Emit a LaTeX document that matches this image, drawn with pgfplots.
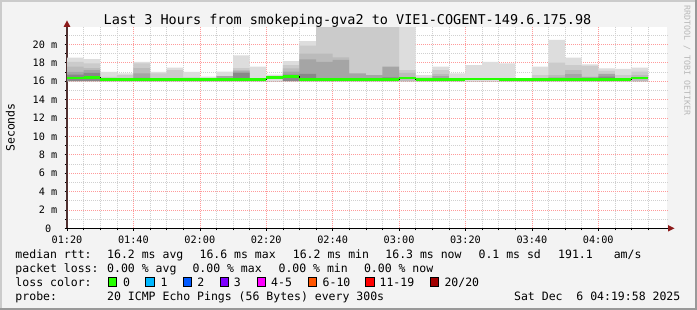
\documentclass[border=0pt]{standalone}
\usepackage{pgfplots}
\pgfplotsset{compat=1.18}
\usepackage{pgfplotstable}
\usepgfplotslibrary{fillbetween}
\usepackage{fontspec}
\setmainfont{DejaVu Sans Mono}
\setmonofont{DejaVu Sans Mono}

\definecolor{bgc}{HTML}{F3F3F3}
\definecolor{shadeA}{HTML}{CBCBCB}
\definecolor{shadeB}{HTML}{999999}
\definecolor{mgrid}{HTML}{FF9A9A}
\definecolor{ngrid}{HTML}{D0D0D0}
\definecolor{arr}{HTML}{8C1A1A}
\definecolor{yax}{HTML}{503030}
\definecolor{sA}{HTML}{DDDDDD}
\definecolor{sB}{HTML}{CBCBCB}
\definecolor{sC}{HTML}{BBBBBB}
\definecolor{sD}{HTML}{A5A5A5}
\definecolor{sE}{HTML}{888888}
\definecolor{med}{HTML}{26FF00}
\definecolor{lc0}{HTML}{26FF00}
\definecolor{lc1}{HTML}{00B8FF}
\definecolor{lc2}{HTML}{0059FF}
\definecolor{lc3}{HTML}{7E00FF}
\definecolor{lc4}{HTML}{FF00FF}
\definecolor{lc5}{HTML}{FF5500}
\definecolor{lc6}{HTML}{FF0000}
\definecolor{lc7}{HTML}{A10000}
\definecolor{wm}{HTML}{B8B8B8}

\pgfplotstableread{
x L1 L2 L3 L4 L5 md
0 18.55 18.10 17.57 17.00 16.70 16.35
5 18.40 17.93 17.40 17.20 16.90 16.40
10 17.00 16.45 16 16 16 16.15
15 16.85 16.66 16 16 16 16.15
20 18.10 17.93 17.40 16.85 16.35 16.15
25 17.00 16.85 16 16 16 16.15
30 17.46 17.20 16 16 16 16.15
35 17.00 16.40 16 16 16 16.15
40 16.48 16 16 16 16 16.15
45 17.02 16 16 16.55 16 16.15
50 18.80 17.40 17.20 17.05 16.90 16.15
55 17.57 16 16 16 16 16.15
60 16.70 16 16 16 16 16.42
65 18.18 17.75 17.39 17.02 16.70 16.50
70 20.35 19.85 19.00 18.37 16.80 16.15
75 16 23 19.00 18.10 16 16.15
80 16 23 18.58 18.30 16 16.15
85 16 23 16 16.85 16 16.15
90 16 23 16 16.66 16 16.15
95 16 23 16 17.57 16.40 16.15
100 23 17.20 16.90 16 16 16.35
105 16.65 16.40 16 16 16 16.15
110 17.57 17.20 16.77 16.55 16 16.15
115 16.85 16 16 16 16 16.15
120 17.75 16 16 16 16 16.25
125 18.10 16 16 16 16 16.25
130 17.93 16 16 16 16 16.15
135 16 16 16 16 16 16.15
140 17.57 16.66 16 16 16 16.15
145 20.47 18.00 16.66 16.40 16 16.15
150 18.55 17.75 17.20 16.77 16 16.15
155 17.83 17.65 16 16.45 16 16.15
160 17.39 17.10 16 16.80 16.50 16.15
165 17.32 16.66 16 16 16 16.15
170 17.46 17.02 16.66 16 16 16.32
175 17.46 17.02 16.66 16 16 16.32
}\smoke

\begin{document}
\begin{tikzpicture}[
  lg/.style={anchor=base west, inner sep=0pt, font=\fontsize{11.5bp}{13bp}\selectfont},
  box/.style={draw=black, line width=0.8bp}]

\begin{axis}[
  set layers,
  clip mode=individual,
  at={(67bp,-228.3bp)}, anchor=south west,
  scale only axis, width=601bp, height=201bp,
  xmin=0, xmax=181, ymin=0, ymax=21.85,
  axis lines*=left,
  x axis line style={black, line width=1.2bp},
  y axis line style={yax, line width=1.2bp},
  xtick={0,20,...,160},
  xticklabels={01:20,01:40,02:00,02:20,02:40,03:00,03:20,03:40,04:00},
  minor xtick={5,10,15,25,30,35,45,50,55,65,70,75,85,90,95,105,110,115,125,130,135,145,150,155,165,170,175},
  ytick={0,2,...,20},
  yticklabels={{0\ \ },2 m,4 m,6 m,8 m,10 m,12 m,14 m,16 m,18 m,20 m},
  minor ytick={1,3,...,21},
  grid=both,
  major grid style={mgrid, line width=0.6bp, dash pattern=on 1bp off 1bp},
  minor grid style={ngrid, line width=0.6bp, dash pattern=on 1bp off 1bp},
  tick align=outside,
  major tick length=2.5bp, minor tick length=2bp,
  tick style={black, line width=0.5bp},
  xticklabel style={font=\fontsize{10.2bp}{12bp}\selectfont, anchor=base, inner sep=0pt, yshift=-13.1bp},
  yticklabel style={font=\fontsize{10.2bp}{12bp}\selectfont, anchor=east, inner sep=0pt, xshift=-7bp},
]
\coordinate (O) at (rel axis cs:0,0);
\begin{pgfonlayer}{axis background}
% background and frame (image px -> shift (X-67, 228.3-Y))
\fill[bgc] ([shift={(-67bp,228.3bp)}]O) rectangle ([shift={(630bp,-81.7bp)}]O);
\fill[shadeA] ([shift={(-67bp,228.3bp)}]O) rectangle ([shift={(630bp,226.3bp)}]O);
\fill[shadeA] ([shift={(-67bp,228.3bp)}]O) rectangle ([shift={(-65bp,-81.7bp)}]O);
\fill[shadeB] ([shift={(-67bp,-79.7bp)}]O) rectangle ([shift={(630bp,-81.7bp)}]O);
\fill[shadeB] ([shift={(628bp,228.3bp)}]O) rectangle ([shift={(630bp,-81.7bp)}]O);
\fill[white] ([shift={(0bp,201bp)}]O) rectangle ([shift={(600bp,0bp)}]O);
\end{pgfonlayer}

\addplot[draw=none, name path=base, forget plot] coordinates {(0,16) (175,16)};
\addplot[draw=none, name path=pA, const plot mark left, forget plot] table[x=x,y=L1]{\smoke};
\addplot[fill=sA, draw=none, forget plot] fill between[of=pA and base];
\addplot[draw=none, name path=pB, const plot mark left, forget plot] table[x=x,y=L2]{\smoke};
\addplot[fill=sB, draw=none, forget plot] fill between[of=pB and base];
\addplot[draw=none, name path=pC, const plot mark left, forget plot] table[x=x,y=L3]{\smoke};
\addplot[fill=sC, draw=none, forget plot] fill between[of=pC and base];
\addplot[draw=none, name path=pD, const plot mark left, forget plot] table[x=x,y=L4]{\smoke};
\addplot[fill=sD, draw=none, forget plot] fill between[of=pD and base];
\addplot[draw=none, name path=pE, const plot mark left, forget plot] table[x=x,y=L5]{\smoke};
\addplot[fill=sE, draw=none, forget plot] fill between[of=pE and base];
\addplot[black, line width=0.6bp, const plot mark left, forget plot] table[x=x,y=md]{\smoke};
\addplot[med, line width=2.6bp, jump mark left, forget plot] table[x=x,y=md]{\smoke};
\end{axis}

% arrows
\fill[arr] (668bp,-225bp) -- (674.5bp,-228.3bp) -- (668bp,-231.6bp) -- cycle;
\fill[arr] (63.7bp,-26.8bp) -- (67bp,-20.3bp) -- (70.3bp,-26.8bp) -- cycle;

% title, unit, watermark
\node[anchor=base, inner sep=0pt, font=\fontsize{13.5bp}{15bp}\selectfont] at (347.5bp,-24.5bp) {Last 3 Hours from smokeping-gva2 to VIE1-COGENT-149.6.175.98};
\node[rotate=90, inner sep=0pt, font=\fontsize{11.5bp}{13bp}\selectfont] at (10.3bp,-127.5bp) {Seconds};
\node[rotate=-90, anchor=west, inner sep=0pt, text=wm, font=\fontsize{8.3bp}{10bp}\selectfont] at (687bp,-5bp) {RRDTOOL / TOBI OETIKER};

% legend rows
\node[lg] at (15.3bp,-258.7bp) {median rtt:};
\node[lg] at (107bp,-258.7bp) {16.2 ms avg};
\node[lg] at (199.4bp,-258.7bp) {16.6 ms max};
\node[lg] at (292.7bp,-258.7bp) {16.2 ms min};
\node[lg] at (385.2bp,-258.7bp) {16.3 ms now};
\node[lg] at (478.4bp,-258.7bp) {0.1 ms sd};
\node[lg] at (558bp,-258.7bp) {191.1};
\node[lg] at (613.6bp,-258.7bp) {am/s};

\node[lg] at (15.3bp,-272.3bp) {packet loss:};
\node[lg] at (107bp,-272.3bp) {0.00 \% avg};
\node[lg] at (192.3bp,-272.3bp) {0.00 \% max};
\node[lg] at (278.4bp,-272.3bp) {0.00 \% min};
\node[lg] at (363.8bp,-272.3bp) {0.00 \% now};

\node[lg] at (15.3bp,-286.3bp) {loss color:};
\fill[lc0] (108.4bp,-277.6bp) rectangle (116.6bp,-286.4bp);
\draw[box] (108.4bp,-277.6bp) rectangle (116.6bp,-286.4bp);
\node[lg] at (123bp,-286.3bp) {0};
\fill[lc1] (145.8bp,-277.6bp) rectangle (154bp,-286.4bp);
\draw[box] (145.8bp,-277.6bp) rectangle (154bp,-286.4bp);
\node[lg] at (160.3bp,-286.3bp) {1};
\fill[lc2] (183.1bp,-277.6bp) rectangle (191.3bp,-286.4bp);
\draw[box] (183.1bp,-277.6bp) rectangle (191.3bp,-286.4bp);
\node[lg] at (197.2bp,-286.3bp) {2};
\fill[lc3] (220bp,-277.6bp) rectangle (228.2bp,-286.4bp);
\draw[box] (220bp,-277.6bp) rectangle (228.2bp,-286.4bp);
\node[lg] at (233.6bp,-286.3bp) {3};
\fill[lc4] (256.9bp,-277.6bp) rectangle (265.1bp,-286.4bp);
\draw[box] (256.9bp,-277.6bp) rectangle (265.1bp,-286.4bp);
\node[lg] at (271bp,-286.3bp) {4-5};
\fill[lc5] (308bp,-277.6bp) rectangle (316.2bp,-286.4bp);
\draw[box] (308bp,-277.6bp) rectangle (316.2bp,-286.4bp);
\node[lg] at (322.5bp,-286.3bp) {6-10};
\fill[lc6] (365.8bp,-277.6bp) rectangle (374bp,-286.4bp);
\draw[box] (365.8bp,-277.6bp) rectangle (374bp,-286.4bp);
\node[lg] at (379.4bp,-286.3bp) {11-19};
\fill[lc7] (430.2bp,-277.6bp) rectangle (438.4bp,-286.4bp);
\draw[box] (430.2bp,-277.6bp) rectangle (438.4bp,-286.4bp);
\node[lg] at (444.3bp,-286.3bp) {20/20};

\node[lg] at (15.3bp,-300bp) {probe:};
\node[lg] at (107bp,-300bp) {20 ICMP Echo Pings (56 Bytes) every 300s};
\node[lg, anchor=base east] at (680.5bp,-300bp) {Sat Dec\ \ 6 04:19:58 2025};
\end{tikzpicture}
\end{document}
